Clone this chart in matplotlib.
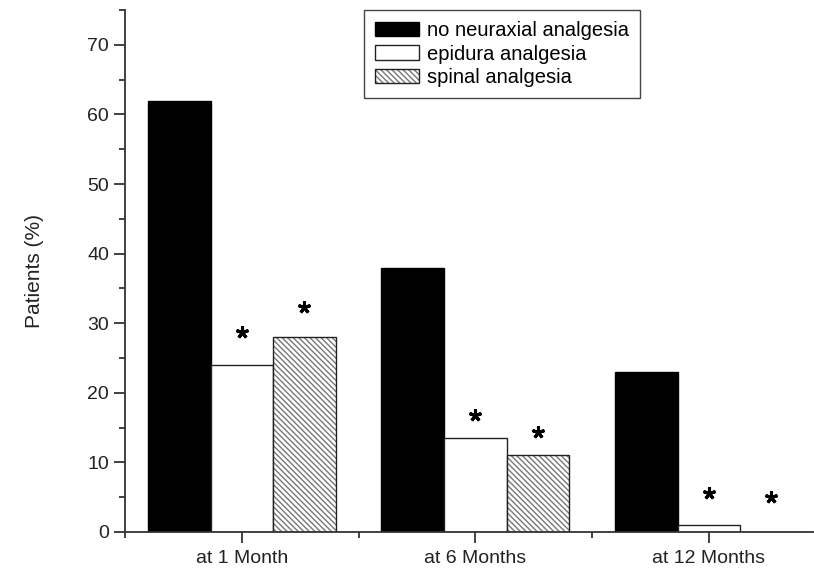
import numpy as np
import matplotlib.pyplot as plt
from matplotlib.patches import Patch

plt.rcParams['font.family'] = ['Liberation Sans', 'DejaVu Sans']

# data
categories = ['at 1 Month', 'at 6 Months', 'at 12 Months']
series_names = ['no neuraxial analgesia', 'epidura analgesia', 'spinal analgesia']
no_neuraxial = [62, 38, 23]
epidural = [24, 13.5, 1]
spinal = [28, 11, 0]
# asterisk heights (significance markers) over epidural and spinal bars
star_epidural = [28.7, 16.8, 5.6]
star_spinal = [32.3, 14.4, 5.0]

fig = plt.figure(figsize=(8.14, 5.70), dpi=100)
ax = fig.add_axes([0.1536, 0.0667, 0.8464, 0.9157])

x = np.arange(1, len(categories) + 1)
w = 0.268
ink = '#222222'
hatch = '\\\\\\\\\\\\'

ax.bar(x - w, no_neuraxial, w, color='black', edgecolor='black', lw=1)
ax.bar(x, epidural, w, color='white', edgecolor=ink, lw=1)
ax.bar(x + w, spinal, w, color='white', edgecolor='#777777', lw=0, hatch=hatch)
ax.bar(x + w, spinal, w, fill=False, edgecolor=ink, lw=1)

ax.plot(x, star_epidural, ls='none', marker=(5, 2, 0), ms=9, mew=2.2, color='black')
ax.plot(x + w, star_spinal, ls='none', marker=(5, 2, 0), ms=9, mew=2.2, color='black')

ax.set_xlim(0.5, 3.45)
ax.set_ylim(0, 75)
ax.set_xticks(x)
ax.set_xticklabels(categories)
ax.set_xticks([0.5, 1.5, 2.5], minor=True)
ax.set_yticks(np.arange(0, 71, 10))
ax.set_yticks(np.arange(5, 76, 10), minor=True)

for s in ['top', 'right']:
    ax.spines[s].set_visible(False)
for s in ['left', 'bottom']:
    ax.spines[s].set_color('#333333')
    ax.spines[s].set_linewidth(1.3)

ax.tick_params(which='major', direction='out', length=8, width=1.3, color='#333333',
               labelsize=14, labelcolor=ink)
ax.tick_params(which='minor', direction='out', length=4, width=1.3, color='#333333')
ax.tick_params(axis='x', which='major', pad=5)
ax.set_ylabel('Patients (%)', fontsize=15, color=ink, labelpad=31)

h_black = Patch(facecolor='black', edgecolor='black', lw=1)
h_white = Patch(facecolor='white', edgecolor=ink, lw=1)
h_hatch = (Patch(facecolor='white', edgecolor='#777777', lw=0, hatch=hatch),
           Patch(fill=False, edgecolor=ink, lw=1))
leg = ax.legend([h_black, h_white, h_hatch], series_names,
                loc='upper left', bbox_to_anchor=(0.347, 1.0), borderaxespad=0,
                fontsize=14.5, fancybox=False, edgecolor='#444444', framealpha=1,
                handlelength=2.2, handleheight=0.75, handletextpad=0.35,
                labelspacing=0.22, borderpad=0.55)
leg.get_frame().set_linewidth(1.0)

fig.savefig('out.png', dpi=100)
